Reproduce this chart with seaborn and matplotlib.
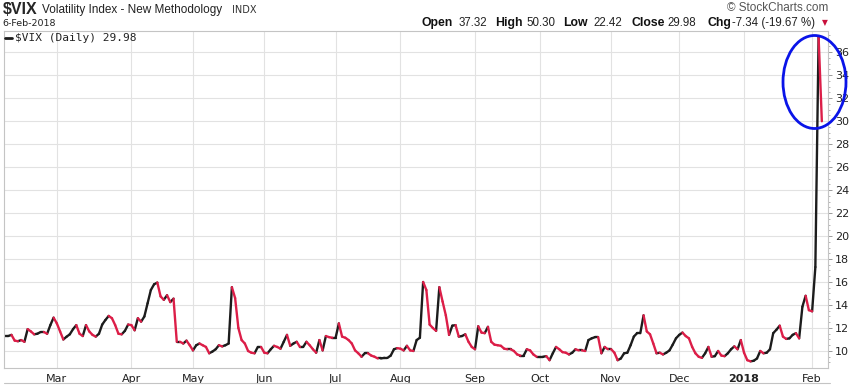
import pandas as pd
import matplotlib
matplotlib.use("Agg")
import matplotlib.pyplot as plt
import seaborn as sns
from matplotlib.patches import Ellipse
from matplotlib.lines import Line2D

# --- DATA: $VIX daily closes, one list per month ---
START, END = "2017-02-06", "2018-02-06"
HOLIDAYS = ["2017-02-20", "2017-04-14", "2017-05-29", "2017-07-04", "2017-09-04",
            "2017-11-23", "2017-12-25", "2018-01-01", "2018-01-15"]

feb_2017 = [11.3, 11.3, 11.4, 10.9, 10.85, 10.95, 10.8, 11.9, 11.7, 11.45, 11.5, 11.65,
            11.65, 11.5, 12.25, 12.9]
mar_2017 = [12.4, 11.7, 11.0, 11.24, 11.45, 11.9, 12.25, 11.5, 11.3, 12.25, 11.7, 11.4,
            11.25, 11.5, 12.3, 12.7, 13.05, 12.85, 12.25, 11.5, 11.45, 11.75, 12.3]
apr_2017 = [12.25, 11.8, 12.85, 12.55, 13.0, 14.15, 15.3, 15.8, 15.95, 14.75, 14.45, 14.85,
            14.25, 14.55, 10.8, 10.8, 10.65, 10.9, 10.5]
may_2017 = [10.05, 10.5, 10.65, 10.5, 10.35, 9.8, 9.95, 10.15, 10.5, 10.4, 10.5, 10.65,
            15.55, 14.6, 12.0, 10.95, 10.65, 10.0, 9.85, 9.8, 10.35, 10.35]
jun_2017 = [9.85, 9.8, 10.15, 10.45, 10.35, 10.2, 10.8, 11.4, 10.45, 10.65, 10.8, 10.35,
            10.35, 10.8, 10.5, 10.15, 9.85, 10.95, 10.05, 11.3, 11.2, 11.15]
jul_2017 = [11.15, 12.4, 11.25, 11.15, 10.95, 10.65, 10.05, 9.8, 9.5, 9.8, 9.8, 9.6,
            9.5, 9.35, 9.35, 9.4, 9.4, 9.6, 10.15, 10.25]
aug_2017 = [10.2, 10.05, 10.45, 10.05, 10.0, 10.95, 11.15, 16.0, 15.3, 12.3, 12.0, 11.75,
            15.55, 14.3, 13.1, 11.4, 12.2, 12.25, 11.25, 11.3, 11.45, 10.8, 10.35]
sep_2017 = [10.15, 12.15, 11.6, 11.55, 12.1, 10.8, 10.55, 10.5, 10.45, 10.2, 10.15, 10.15,
            10.0, 9.7, 9.6, 9.6, 10.15, 10.05, 9.7, 9.5]
oct_2017 = [9.5, 9.5, 9.55, 9.2, 9.8, 10.35, 10.15, 9.9, 9.85, 9.7, 9.85, 10.15,
            10.05, 10.05, 10.0, 10.95, 11.1, 11.2, 11.2, 9.8, 10.35, 10.15]
nov_2017 = [10.15, 9.85, 9.2, 9.35, 9.8, 9.85, 10.5, 11.25, 11.55, 11.55, 13.1, 11.7,
            11.45, 10.65, 9.8, 9.85, 9.7, 9.85, 10.05, 10.55, 11.1]
dec_2017 = [11.4, 11.6, 11.3, 11.1, 10.35, 9.8, 9.5, 9.4, 9.8, 10.35, 9.5, 9.55,
            10.0, 9.6, 9.55, 9.8, 10.15, 10.4, 10.15, 10.95]
jan_2018 = [9.85, 9.2, 9.1, 9.15, 9.35, 10.0, 9.8, 9.85, 10.15, 11.55, 11.85, 12.2,
            11.25, 11.05, 11.1, 11.4, 11.55, 11.1, 13.85, 14.8, 13.55]
feb_2018 = [13.45, 17.3, 37.3, 29.98]

MONTH_LABELS = ["Mar", "Apr", "May", "Jun", "Jul", "Aug", "Sep", "Oct", "Nov", "Dec", "2018", "Feb"]
Y_TICKS = list(range(10, 37, 2))

vix = (feb_2017 + mar_2017 + apr_2017 + may_2017 + jun_2017 + jul_2017 + aug_2017 +
       sep_2017 + oct_2017 + nov_2017 + dec_2017 + jan_2018 + feb_2018)

dates = pd.bdate_range(START, END)
dates = dates[~dates.isin(pd.to_datetime(HOLIDAYS))][:len(vix)]
month_starts = [i for i in range(1, len(dates)) if dates[i].month != dates[i - 1].month]

# each day-to-day move is its own two-point segment: black up, red down
rows = []
for k in range(len(vix) - 1):
    d = "up" if vix[k + 1] >= vix[k] else "down"
    rows.append((k, k, vix[k], d))
    rows.append((k, k + 1, vix[k + 1], d))
seg = pd.DataFrame(rows, columns=["seg", "t", "close", "dir"])

# --- FIGURE ---
W, H = 851, 385
sns.set_style("white")
plt.rcParams["font.family"] = ["DejaVu Sans"]
fig = plt.figure(figsize=(W / 100, H / 100), dpi=100)
ax = fig.add_axes([4 / W, 17 / H, 824 / W, 337 / H])

sns.lineplot(data=seg, x="t", y="close", hue="dir", units="seg", estimator=None,
             palette={"up": "#1c1c1c", "down": "#dc1e48"}, linewidth=1.7,
             solid_capstyle="round", legend=False, ax=ax)

ax.set_xlim(-0.3, len(vix) - 1 + 1.9)
ax.set_ylim(8.52, 37.83)
ax.set_xlabel("")
ax.set_ylabel("")

ax.set_xticks(month_starts)
ax.set_xticklabels(MONTH_LABELS, fontsize=8, color="#222")
for lab in ax.get_xticklabels():
    if lab.get_text() == "2018":
        lab.set_fontweight("bold")
ax.tick_params(axis="x", length=0, pad=4)

ax.yaxis.tick_right()
ax.set_yticks(Y_TICKS)
ax.set_yticklabels([str(v) for v in Y_TICKS], fontsize=8, color="#222")
ax.set_yticks([v / 2 for v in range(18, 76)], minor=True)
ax.tick_params(axis="y", which="major", length=3, width=0.7, color="#999", pad=2)
ax.tick_params(axis="y", which="minor", length=1.5, width=0.6, color="#aaa")

ax.grid(True, which="major", color="#e2e2e2", linewidth=0.8)
ax.set_axisbelow(True)
for sp in ax.spines.values():
    sp.set_color("#c4c4c4")
    sp.set_linewidth(0.8)

# --- HEADER TEXTS (pixel positions) ---
def fx(x):
    return x / W


def fy(y):
    return 1 - y / H


hdr = "Liberation Sans"
fig.text(fx(3), fy(10), "$VIX", fontsize=11.5, fontweight="bold", family=hdr, va="center")
fig.text(fx(42), fy(10), "Volatility Index - New Methodology", fontsize=8.5, family=hdr,
         va="center", color="#222")
fig.text(fx(232), fy(10), "INDX", fontsize=7, va="center", color="#333")
fig.text(fx(2), fy(23), "6-Feb-2018", fontsize=6.8, va="center", color="#222")
fig.text(fx(828), fy(8), "\u00a9 StockCharts.com", fontsize=8.5, family=hdr, ha="right",
         va="center", color="#555")

ohlc = [(421, "Open", True), (459, "37.32", False), (495, "High", True), (526, "50.30", False),
        (563, "Low", True), (593, "22.42", False), (631, "Close", True), (667, "29.98", False),
        (707, "Chg", True), (732, "-7.34 (-19.67 %)", False)]
for x, s, b in ohlc:
    fig.text(fx(x), fy(23), s, fontsize=8.8 if b else 8.3, family=hdr, va="center",
             fontweight="bold" if b else "normal", color="#111" if b else "#222")
fig.text(fx(825), fy(23), "\u25bc", fontsize=5.5, ha="center", va="center", color="#c8103c")

# in-plot legend
fig.add_artist(Line2D([fx(5), fx(12)], [fy(38), fy(38)], color="#1c1c1c", lw=2))
fig.text(fx(15), fy(38), "$VIX (Daily) 29.98", fontsize=8, family="DejaVu Sans Mono",
         va="center", color="#222")

# bottom frame line
fig.add_artist(Line2D([fx(4), fx(830)], [fy(383), fy(383)], color="#c4c4c4", lw=0.8))

# blue highlight ellipse round the spike
fig.add_artist(Ellipse((fx(814.5), fy(82)), 63 / W, 93 / H, transform=fig.transFigure,
                       fill=False, edgecolor="#0a14e8", linewidth=2, zorder=10))

plt.savefig("out.png", dpi=100)
